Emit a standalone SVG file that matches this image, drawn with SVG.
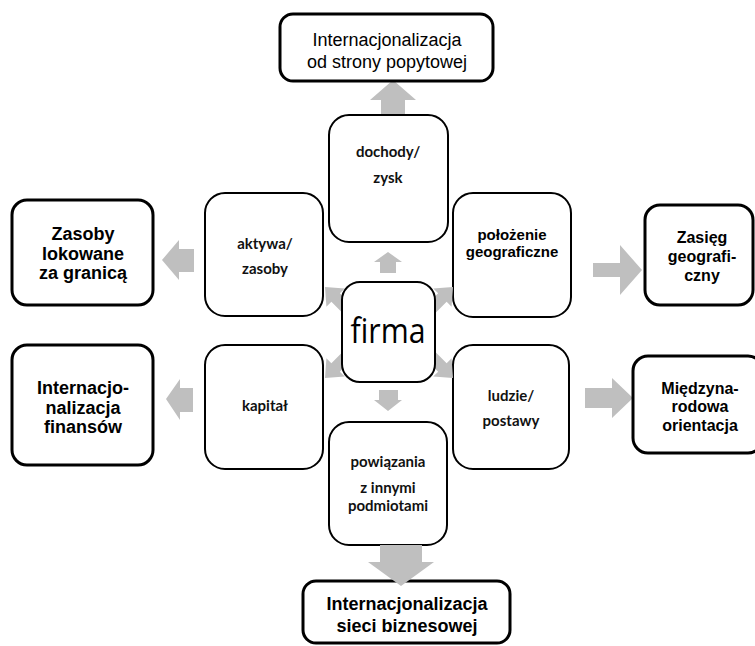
<svg xmlns="http://www.w3.org/2000/svg" width="755" height="646" viewBox="0 0 755 646">
<style>
.inner{fill:#fff;stroke:#000;stroke-width:2}
.outer{fill:#fff;stroke:#000;stroke-width:3}
.arr{fill:#bfbfbf;stroke:none}
.t{font-family:"Lato","Open Sans",sans-serif;font-weight:700;font-size:15px;fill:#111;text-anchor:middle}
.b{font-family:"Liberation Sans",Arial,sans-serif;font-weight:700;font-size:18px;fill:#000;text-anchor:middle}
.s{font-family:"Liberation Sans",Arial,sans-serif;font-weight:700;font-size:16px;fill:#000;text-anchor:middle}
.m{font-family:"Liberation Sans",Arial,sans-serif;font-weight:700;font-size:15px;fill:#000;text-anchor:middle}
.r{font-family:"Liberation Sans",Arial,sans-serif;font-size:18px;fill:#000;text-anchor:middle}
</style>
<defs>
<path id="diag" d="M0,0 L-15,-13 L-15,-6 L-34,-6 L-34,6 L-15,6 L-15,13 Z"/>
</defs>
<g id="connectors">
<polygon class="arr" points="381,120 381,100 370,100 393,80 416,100 405,100 405,120"/>
<polygon class="arr" points="380,273 380,262 374,262 388,252 402,262 396,262 396,273"/>
<polygon class="arr" points="379,390 379,400 374,400 388,411 402,400 398,400 398,390"/>
<polygon class="arr" points="194,249 179,249 179,240 162,260 179,280 179,272 194,272"/>
<polygon class="arr" points="193,388 180,388 180,379 166,399 180,420 180,412 193,412"/>
<polygon class="arr" points="593,263 620,263 620,245 642,270 620,295 620,277 593,277"/>
<polygon class="arr" points="585,388 612,388 612,378 633,398 612,418 612,408 585,408"/>
</g>
<g id="top">
<rect class="outer" x="280" y="14" width="213" height="67" rx="13"/>
<text class="r" x="387" y="46">Internacjonalizacja</text>
<text class="r" x="387" y="68">od strony popytowej</text>
</g>
<g id="dochody">
<rect class="inner" x="329" y="115" width="119" height="127" rx="20"/>
<text class="t" x="388" y="157">dochody/</text>
<text class="t" x="388" y="183">zysk</text>
</g>
<g id="aktywa">
<rect class="inner" x="205" y="193" width="118" height="123" rx="20"/>
<text class="t" x="265" y="249">aktywa/</text>
<text class="t" x="265" y="274">zasoby</text>
</g>
<g id="polozenie">
<rect class="inner" x="453" y="193" width="118" height="124" rx="20"/>
<text class="m" x="512" y="240">położenie</text>
<text class="m" x="512" y="257">geograficzne</text>
</g>
<g id="kapital">
<rect class="inner" x="205" y="345" width="118" height="124" rx="20"/>
<text class="t" x="265" y="411">kapitał</text>
</g>
<g id="ludzie">
<rect class="inner" x="453" y="345" width="116" height="124" rx="20"/>
<text class="t" x="511" y="401">ludzie/</text>
<text class="t" x="511" y="426">postawy</text>
</g>
<g id="connectors-diagonal">
<use href="#diag" class="arr" transform="translate(325,287) rotate(-135)"/>
<use href="#diag" class="arr" transform="translate(453,287) rotate(-45)"/>
<use href="#diag" class="arr" transform="translate(325,378) rotate(135)"/>
<use href="#diag" class="arr" transform="translate(453,378) rotate(45)"/>
</g>
<g id="firma">
<rect class="inner" x="342" y="282" width="93" height="100" rx="18"/>
<text x="388" y="343" font-family="Open Sans, sans-serif" font-size="35" fill="#000" text-anchor="middle" textLength="75" lengthAdjust="spacingAndGlyphs">firma</text>
</g>
<g id="powiazania">
<rect class="inner" x="329" y="422" width="118" height="123" rx="20"/>
<text class="t" x="388" y="467">powiązania</text>
<text class="t" x="388" y="493">z innymi</text>
<text class="t" x="388" y="511">podmiotami</text>
</g>
<g id="zasoby">
<rect class="outer" x="12" y="200" width="141" height="105" rx="15"/>
<text class="b" x="83" y="240">Zasoby</text>
<text class="b" x="83" y="260">lokowane</text>
<text class="b" x="83" y="279">za granicą</text>
</g>
<g id="finanse">
<rect class="outer" x="12" y="345" width="141" height="120" rx="15"/>
<text class="b" x="83" y="394">Internacjo-</text>
<text class="b" x="83" y="414">nalizacja</text>
<text class="b" x="83" y="433">finansów</text>
</g>
<g id="zasieg">
<rect class="outer" x="645" y="205" width="108" height="100" rx="15"/>
<text class="s" x="702" y="243">Zasięg</text>
<text class="s" x="702" y="262">geografi-</text>
<text class="s" x="702" y="281">czny</text>
</g>
<g id="orientacja">
<rect class="outer" x="633" y="356" width="130" height="97" rx="15"/>
<text class="s" x="700" y="394">Międzyna-</text>
<text class="s" x="700" y="412">rodowa</text>
<text class="s" x="700" y="431">orientacja</text>
</g>
<g id="siec">
<rect class="outer" x="303" y="581" width="207" height="62" rx="13"/>
<text class="b" x="407" y="610">Internacjonalizacja</text>
<text class="b" x="407" y="632">sieci biznesowej</text>
</g>
<g id="connectors-front">
<polygon class="arr" points="380,545 380,562 368,562 401,586 434,562 422,562 422,545"/>
</g>
</svg>
